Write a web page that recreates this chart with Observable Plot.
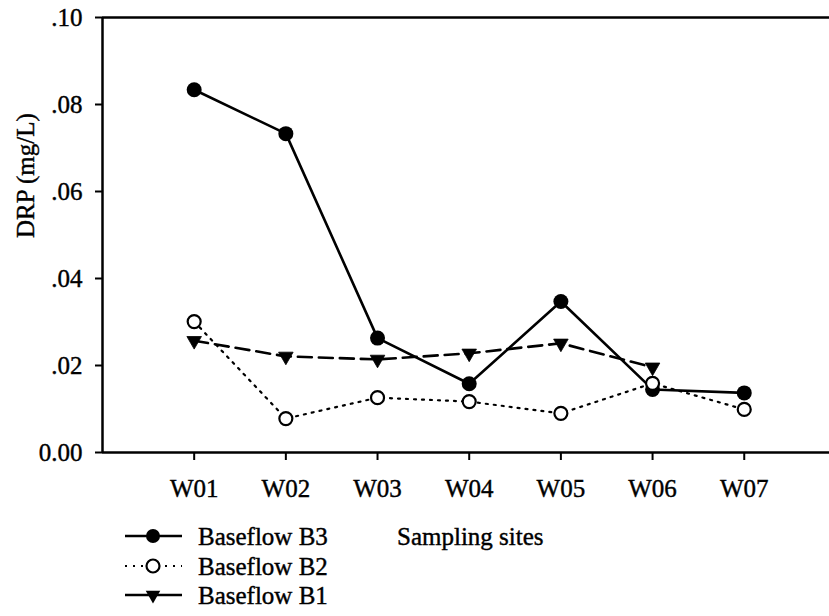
<!DOCTYPE html>
<html>
<head>
<meta charset="utf-8">
<script src="https://cdn.jsdelivr.net/npm/d3@7"></script>
<script src="https://cdn.jsdelivr.net/npm/@observablehq/plot@0.6"></script>
<style>
  html, body { margin: 0; padding: 0; background: #fff; }
  #chart svg text { font-family: 'Liberation Serif', serif; stroke: #000; stroke-width: 0.4px; }
</style>
</head>
<body>
<div id="chart"></div>
<script>
const sites = ["W01", "W02", "W03", "W04", "W05", "W06", "W07"];
const baseflowB3 = [0.0834, 0.0733, 0.0263, 0.0158, 0.0347, 0.0145, 0.0137];
const baseflowB2 = [0.0301, 0.0078, 0.0126, 0.0117, 0.0090, 0.0159, 0.0099];
const baseflowB1 = [0.0257, 0.0221, 0.0214, 0.0228, 0.0251, 0.0196, null];
const yTicks = [0, 0.02, 0.04, 0.06, 0.08, 0.10];
const yLabel = "DRP (mg/L)";
const xLabel = "Sampling sites";
const seriesNames = ["Baseflow B3", "Baseflow B2", "Baseflow B1"];

const FONT = "Liberation Serif";

const toRows = (vals) => vals.map((v, i) => ({i: i + 1, site: sites[i], v})).filter(d => d.v != null);
const rB3 = toRows(baseflowB3), rB2 = toRows(baseflowB2), rB1 = toRows(baseflowB1);

const fmtY = d => d === 0 ? "0.00" : d3.format(".2f")(d).replace(/^0/, "");

const svg = Plot.plot({
  width: 829,
  height: 616,
  marginLeft: 102,
  marginRight: 0,
  marginTop: 17,
  marginBottom: 164,
  style: "font-family: 'Liberation Serif', serif; font-size: 25px;",
  x: {type: "linear", domain: [0, 7.93]},
  y: {domain: [0, 0.1]},
  marks: [
    Plot.ruleY([0.1], {stroke: "#000", strokeWidth: 2.5}),
    Plot.ruleY([0], {stroke: "#000", strokeWidth: 2.5}),
    Plot.ruleX([0], {stroke: "#000", strokeWidth: 2.5}),
    Plot.axisY({ticks: yTicks, tickFormat: fmtY, tickSize: 7, tickPadding: 13, strokeWidth: 2, label: null, fontSize: 25, fontFamily: FONT}),
    Plot.axisX({ticks: [1,2,3,4,5,6,7], tickFormat: i => sites[i - 1], tickSize: 8, tickPadding: 19, strokeWidth: 2, label: null, fontSize: 25, fontFamily: FONT}),
    Plot.text([yLabel], {frameAnchor: "left", dx: -77, dy: 3, rotate: -90, fontSize: 25, fontFamily: FONT, fill: "#000"}),
    Plot.line(rB3, {x: "i", y: "v", stroke: "#000", strokeWidth: 2.6}),
    Plot.line(rB1, {x: "i", y: "v", stroke: "#000", strokeWidth: 2.6, strokeDasharray: "14,7"}),
    Plot.line(rB2, {x: "i", y: "v", stroke: "#000", strokeWidth: 2.2, strokeDasharray: "2,6"}),
    Plot.dot(rB3, {x: "i", y: "v", r: 7.5, fill: "#000", stroke: "none"}),
    Plot.dot(rB1, {x: "i", y: "v", symbol: "triangle", rotate: 180, r: 5.4, fill: "#000", stroke: "#000", strokeWidth: 0.8}),
    Plot.dot(rB2, {x: "i", y: "v", r: 6.5, fill: "#fff", stroke: "#000", strokeWidth: 2.2})
  ]
});

// Legend below the plot frame
const g = d3.select(svg).append("g")
  .attr("font-family", FONT)
  .attr("font-size", 25)
  .attr("text-anchor", "start");
const rowsY = [536, 566, 595];
const styles = [
  {dash: null, w: 2.6, marker: "filled"},
  {dash: "2,6", w: 2.2, marker: "open"},
  {dash: null, w: 2.6, marker: "tri"}
];
seriesNames.forEach((name, k) => {
  const y = rowsY[k];
  const s = styles[k];
  const line = g.append("line").attr("x1", 125).attr("x2", 182).attr("y1", y).attr("y2", y)
    .attr("stroke", "#000").attr("stroke-width", s.w);
  if (s.dash) line.attr("stroke-dasharray", s.dash);
  if (s.marker === "filled") {
    g.append("circle").attr("cx", 153).attr("cy", y).attr("r", 7).attr("fill", "#000");
  } else if (s.marker === "open") {
    g.append("circle").attr("cx", 153).attr("cy", y).attr("r", 6.5).attr("fill", "#fff").attr("stroke", "#000").attr("stroke-width", 2.2);
  } else {
    g.append("path").attr("transform", `translate(153,${y}) rotate(180)`)
      .attr("d", d3.symbol(d3.symbolTriangle, 92)()).attr("fill", "#000");
  }
  g.append("text").attr("x", 198).attr("y", y).attr("dy", "0.35em").attr("fill", "#000").text(name);
});
g.append("text").attr("x", 397).attr("y", 536).attr("dy", "0.35em").attr("fill", "#000").text(xLabel);

document.getElementById("chart").appendChild(svg);
</script>
</body>
</html>
